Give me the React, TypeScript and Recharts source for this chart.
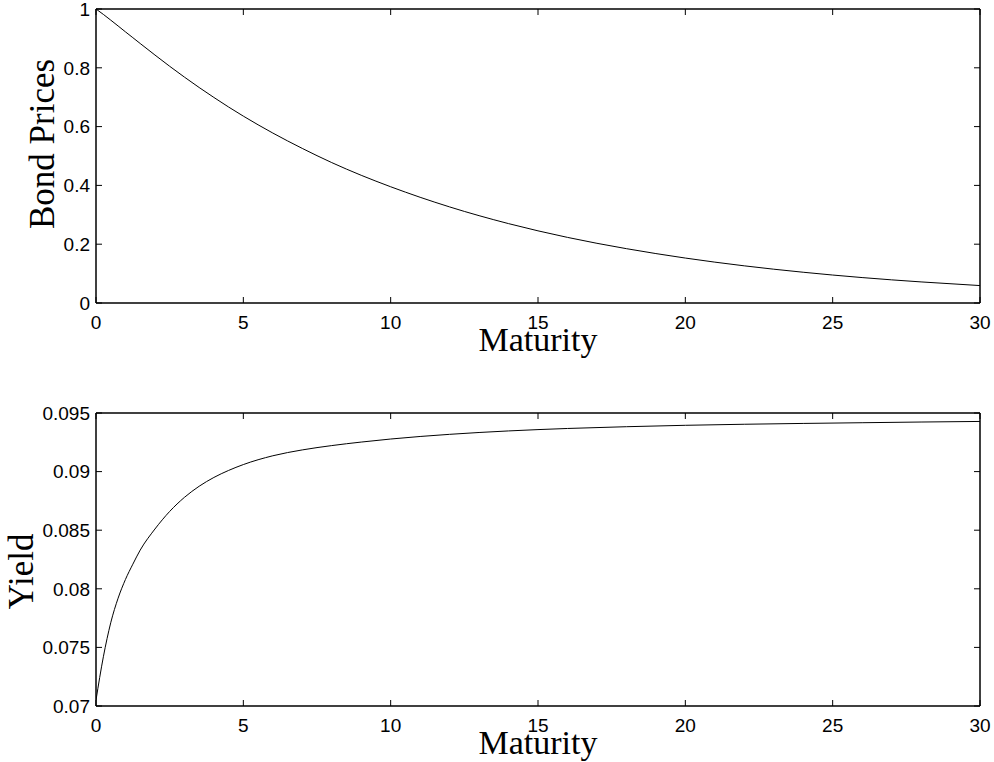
import React from 'react';
import { LineChart, Line, XAxis, YAxis } from 'recharts';

const maturities = [0, 0.25, 0.5, 0.75, 1, 1.25, 1.5, 2, 2.5, 3, 3.5, 4, 4.5, 5, 6, 7, 8, 9, 10, 12, 14, 16, 18, 20, 22, 24, 26, 28, 30];
const bondPrices = [1, 0.9816, 0.9622, 0.9423, 0.9222, 0.9025, 0.8827, 0.8435, 0.8052, 0.7684, 0.7330, 0.6992, 0.6666, 0.6356, 0.5781, 0.5258, 0.4776, 0.4344, 0.3954, 0.3268, 0.2700, 0.2232, 0.1848, 0.1529, 0.1264, 0.1046, 0.0865, 0.0717, 0.0593];
const yields = [0.0705, 0.0742, 0.0771, 0.0792, 0.0808, 0.0821, 0.0833, 0.0851, 0.0866, 0.0878, 0.08875, 0.0895, 0.0901, 0.0906, 0.09135, 0.09185, 0.09222, 0.09252, 0.09278, 0.09318, 0.09347, 0.09368, 0.09383, 0.09395, 0.09404, 0.09411, 0.09417, 0.09423, 0.09428];
const xTicks = [0, 5, 10, 15, 20, 25, 30];
const priceTicks = [0, 0.2, 0.4, 0.6, 0.8, 1];
const yieldTicks = [0.07, 0.075, 0.08, 0.085, 0.09, 0.095];
const xLabelText = 'Maturity';
const priceLabelText = 'Bond Prices';
const yieldLabelText = 'Yield';

const priceData = maturities.map((t, i) => ({ t, v: bondPrices[i] }));
const yieldData = maturities.map((t, i) => ({ t, v: yields[i] }));

const TICK_FONT = '"Liberation Sans", Arial, Helvetica, sans-serif';
const TICK_FS = 19;
const TICK_LEN = 6;
const BOTTOM_MARGIN = 12;
const LEFT_MARGIN = 6;
const labelFont = '"Liberation Serif", "Times New Roman", serif';
const axisLineStyle = { stroke: '#000', strokeWidth: 1.5 };

const BottomTick = (props: any) => {
  const { x, y, payload } = props;
  const ay = y - BOTTOM_MARGIN;
  return (
    <g>
      <line x1={x} x2={x} y1={ay} y2={ay - TICK_LEN} stroke="#000" strokeWidth={1} />
      <text x={x} y={ay + BOTTOM_MARGIN} dy="0.72em" textAnchor="middle" fontFamily={TICK_FONT} fontSize={TICK_FS} fill="#000">
        {String(payload.value)}
      </text>
    </g>
  );
};

const LeftTick = (props: any) => {
  const { x, y, payload } = props;
  const ax = x + LEFT_MARGIN;
  return (
    <g>
      <line x1={ax} x2={ax + TICK_LEN} y1={y} y2={y} stroke="#000" strokeWidth={1} />
      <text x={ax - LEFT_MARGIN} y={y} dy="0.36em" textAnchor="end" fontFamily={TICK_FONT} fontSize={TICK_FS} fill="#000">
        {String(payload.value)}
      </text>
    </g>
  );
};

const TopTick = (props: any) => {
  const { x, y } = props;
  return <line x1={x} x2={x} y1={y} y2={y + TICK_LEN} stroke="#000" strokeWidth={1} />;
};

const RightTick = (props: any) => {
  const { x, y } = props;
  return <line x1={x} x2={x - TICK_LEN} y1={y} y2={y} stroke="#000" strokeWidth={1} />;
};

const makeXLabel = (text: string) => (props: any) => {
  const vb = props.viewBox || {};
  const cx = vb.x + vb.width / 2;
  const y = vb.y + 48;
  return (
    <text x={cx} y={y} textAnchor="middle" fontFamily={labelFont} fontSize={34} fill="#000">
      {text}
    </text>
  );
};

const makeYLabel = (text: string, bx: number, dc: number) => (props: any) => {
  const vb = props.viewBox || {};
  const cy = vb.y + vb.height / 2 + dc;
  return (
    <text
      x={bx}
      y={cy}
      transform={`rotate(-90 ${bx} ${cy})`}
      textAnchor="middle"
      fontFamily={labelFont}
      fontSize={35}
      fill="#000"
    >
      {text}
    </text>
  );
};

type PanelProps = {
  data: any[];
  top: number;
  height: number;
  marginTop: number;
  bottomAxisHeight: number;
  yTicks: number[];
  yDomain: [number, number];
  yLabel: any;
};

function Panel({ data, top, height, marginTop, bottomAxisHeight, yTicks, yDomain, yLabel }: PanelProps) {
  return (
    <div style={{ position: 'absolute', left: 0, top }}>
      <LineChart width={994} height={height} data={data} margin={{ top: marginTop - 1, right: 13, bottom: 0, left: 0 }}>
        <XAxis
          dataKey="t"
          type="number"
          domain={[0, 30]}
          ticks={xTicks}
          interval={0}
          height={bottomAxisHeight}
          axisLine={axisLineStyle}
          tickLine={false}
          tickSize={0}
          tickMargin={BOTTOM_MARGIN}
          tick={BottomTick}
          allowDataOverflow
          label={makeXLabel(xLabelText)}
        />
        <XAxis
          xAxisId="top"
          orientation="top"
          dataKey="t"
          type="number"
          domain={[0, 30]}
          ticks={xTicks}
          interval={0}
          height={1}
          axisLine={axisLineStyle}
          tickLine={false}
          tickSize={0}
          tickMargin={0}
          tick={TopTick}
          allowDataOverflow
        />
        <YAxis
          type="number"
          domain={yDomain}
          ticks={yTicks}
          interval={0}
          width={96}
          axisLine={axisLineStyle}
          tickLine={false}
          tickSize={0}
          tickMargin={LEFT_MARGIN}
          tick={LeftTick}
          allowDataOverflow
          label={yLabel}
        />
        <YAxis
          yAxisId="right"
          orientation="right"
          type="number"
          domain={yDomain}
          ticks={yTicks}
          interval={0}
          width={1}
          axisLine={axisLineStyle}
          tickLine={false}
          tickSize={0}
          tickMargin={0}
          tick={RightTick}
          allowDataOverflow
        />
        <Line
          xAxisId="top"
          yAxisId="right"
          dataKey="v"
          type="monotone"
          stroke="none"
          strokeWidth={0}
          dot={false}
          activeDot={false}
          legendType="none"
          isAnimationActive={false}
        />
        <Line
          dataKey="v"
          type="monotone"
          stroke="#000"
          strokeWidth={1}
          dot={false}
          activeDot={false}
          isAnimationActive={false}
        />
      </LineChart>
    </div>
  );
}

export default function App() {
  return (
    <div style={{ width: 994, height: 762 }}>
      <Panel
        data={priceData}
        top={0}
        height={370}
        marginTop={9}
        bottomAxisHeight={67}
        yTicks={priceTicks}
        yDomain={[0, 1]}
        yLabel={makeYLabel(priceLabelText, 54, -12)}
      />
      <Panel
        data={yieldData}
        top={380}
        height={382}
        marginTop={33}
        bottomAxisHeight={56}
        yTicks={yieldTicks}
        yDomain={[0.07, 0.095]}
        yLabel={makeYLabel(yieldLabelText, 33, 12)}
      />
    </div>
  );
}
